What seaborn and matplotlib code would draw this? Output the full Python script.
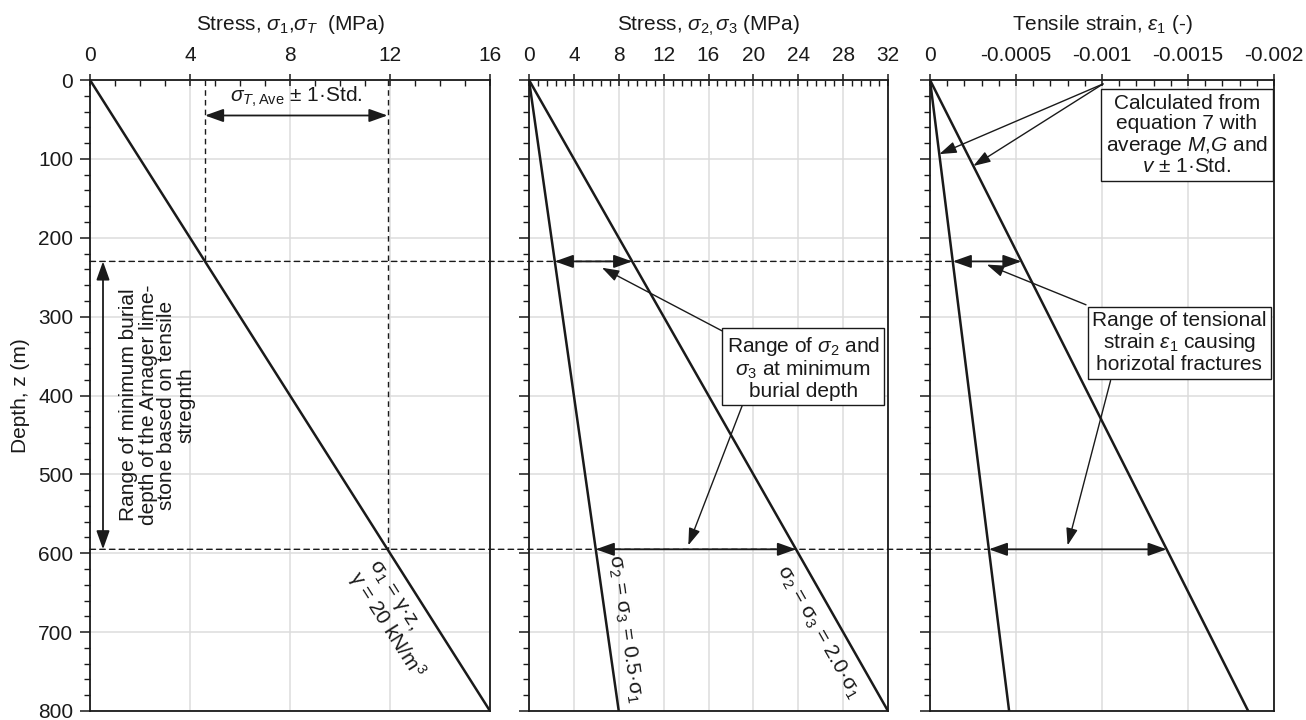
import numpy as np
import pandas as pd
import matplotlib
matplotlib.use("Agg")
import matplotlib.pyplot as plt
import seaborn as sns
from matplotlib.patches import ConnectionPatch
from matplotlib.ticker import MultipleLocator, FuncFormatter

# ---- data -------------------------------------------------------------
gamma_kn = 20.0                      # unit weight, kN/m3
depth_ends = [0.0, 800.0]            # m
sigma_t_range = [4.6, 11.9]          # tensile strength, average +/- 1 std (MPa)
ratios = [0.5, 2.0]                  # sigma2 = sigma3 = ratio * sigma1
strain_at_800 = [-0.00046, -0.00185]  # tensile strain at 800 m (two estimates)

x1_ticks = [0, 4, 8, 12, 16]
x2_ticks = [0, 4, 8, 12, 16, 20, 24, 28, 32]
x3_ticks = [0, -0.0005, -0.001, -0.0015, -0.002]
y_ticks = [0, 100, 200, 300, 400, 500, 600, 700, 800]

# ---- derived series ---------------------------------------------------
depth = np.array(depth_ends)
sigma1 = gamma_kn / 1000.0 * depth
burial = np.array(sigma_t_range) / (gamma_kn / 1000.0)   # minimum burial depths


def s1(z):
    return gamma_kn / 1000.0 * z


def strain(i, z):
    return strain_at_800[i] * z / depth_ends[1]


df1 = pd.DataFrame({"z": depth, "s": sigma1})
df2 = pd.concat([pd.DataFrame({"z": depth, "s": r * sigma1, "k": str(r)}) for r in ratios])
df3 = pd.concat([pd.DataFrame({"z": depth, "e": e * depth / depth_ends[1], "k": str(i)})
                 for i, e in enumerate(strain_at_800)])

# ---- style ------------------------------------------------------------
sns.set_theme(style="whitegrid")
plt.rcParams["font.family"] = ["Liberation Sans", "DejaVu Sans"]
plt.rcParams["mathtext.fontset"] = "custom"
plt.rcParams["mathtext.rm"] = "Liberation Sans"
plt.rcParams["mathtext.it"] = "Liberation Sans:italic"
plt.rcParams["mathtext.bf"] = "Liberation Sans:bold"
plt.rcParams["axes.unicode_minus"] = False

FS = 15
ink = "#1a1a1a"
grid_c = "#dcdcdc"

fig = plt.figure(figsize=(13.06, 7.20), dpi=100)
W, H = 1306.0, 720.0
top_px, bot_px = 80.0, 711.0
panels_px = [(90, 490), (529, 888), (930, 1274)]
axes = []
for l, r in panels_px:
    ax = fig.add_axes([l / W, 1 - bot_px / H, (r - l) / W, (bot_px - top_px) / H])
    axes.append(ax)
ax1, ax2, ax3 = axes

line_kw = dict(color=ink, linewidth=1.8, estimator=None, sort=False, legend=False)
sns.lineplot(data=df1, x="s", y="z", ax=ax1, **line_kw)
sns.lineplot(data=df2, x="s", y="z", units="k", ax=ax2, **line_kw)
sns.lineplot(data=df3, x="e", y="z", units="k", ax=ax3, **line_kw)

ax1.set_xlim(0, 16)
ax2.set_xlim(0, 32)
ax3.set_xlim(0, -0.002)

for ax, ticks, minor in [(ax1, x1_ticks, 1), (ax2, x2_ticks, 0.8), (ax3, x3_ticks, 0.0001)]:
    ax.set_ylim(800, 0)
    ax.set_xticks(ticks)
    ax.xaxis.set_minor_locator(MultipleLocator(minor))
    ax.set_yticks(y_ticks)
    ax.yaxis.set_minor_locator(MultipleLocator(20))
    ax.xaxis.set_ticks_position("top")
    ax.xaxis.set_label_position("top")
    ax.grid(True, which="major", color=grid_c, linewidth=1.1)
    ax.grid(False, which="minor")
    ax.set_axisbelow(True)
    for sp in ax.spines.values():
        sp.set_visible(True)
        sp.set_color(ink)
        sp.set_linewidth(1.3)
    ax.tick_params(axis="x", which="major", direction="inout", length=8, width=1.1,
                   color=ink, top=True, bottom=False, labeltop=True, labelbottom=False,
                   labelsize=FS, pad=7, labelcolor=ink)
    ax.tick_params(axis="x", which="minor", direction="in", length=4, width=1.0,
                   color=ink, top=True, bottom=False)
    ax.tick_params(axis="y", which="major", direction="out", length=7, width=1.1,
                   color=ink, left=True, right=False, labelsize=FS, pad=5, labelcolor=ink)
    ax.tick_params(axis="y", which="minor", direction="out", length=4.5, width=1.0,
                   color=ink, left=True, right=False)
    ax.set_ylabel("")

ax3.xaxis.set_major_formatter(FuncFormatter(lambda v, p: "0" if abs(v) < 1e-12 else f"{v:g}"))
ax2.tick_params(axis="y", labelleft=False)
ax3.tick_params(axis="y", labelleft=False)

ax1.set_xlabel(r"Stress, $\sigma_1$,$\sigma_T$  (MPa)", fontsize=FS, labelpad=11, color=ink)
ax2.set_xlabel(r"Stress, $\sigma_{2,}\sigma_3$ (MPa)", fontsize=FS, labelpad=11, color=ink)
ax3.set_xlabel(r"Tensile strain, $\varepsilon_1$ (-)", fontsize=FS, labelpad=11, color=ink)
ax1.set_ylabel("Depth, z (m)", fontsize=FS, labelpad=6, color=ink)

dash = (0, (4, 3))

# tensile strength range and the corresponding burial depths
for st, zb in zip(sigma_t_range, burial):
    ax1.plot([st, st], [0, zb], color=ink, lw=1.0, ls=dash)
    con = ConnectionPatch(xyA=(0, zb), coordsA=ax1.transData,
                          xyB=(strain(0, zb), zb), coordsB=ax3.transData,
                          color=ink, lw=1.0, linestyle=dash)
    fig.add_artist(con)

dbl = dict(arrowstyle="<|-|>,head_length=0.7,head_width=0.25", color=ink, lw=1.3,
           mutation_scale=16, shrinkA=0, shrinkB=0)
ptr = dict(arrowstyle="-|>,head_length=0.65,head_width=0.22", color=ink, lw=1.0,
           mutation_scale=16, shrinkA=0, shrinkB=0)
box = dict(boxstyle="square,pad=0.22", fc="white", ec=ink, lw=1.0)

# panel 1 annotations
ax1.annotate("", xy=(sigma_t_range[1], 45), xytext=(sigma_t_range[0], 45), arrowprops=dbl)
ax1.text(sum(sigma_t_range) / 2, 22, r"$\sigma_{T,\mathrm{Ave}}$ ± 1·Std.", fontsize=FS,
         ha="center", va="center", color=ink)
ax1.annotate("", xy=(0.52, burial[1]), xytext=(0.52, burial[0]), arrowprops=dbl)
ax1.text(2.7, 412, "Range of minimum burial\ndepth of the Arnager lime-\nstone based on tensile\nstregnth",
         rotation=90, fontsize=FS, ha="center", va="center", multialignment="center", color=ink,
         linespacing=1.0)


def angle(ax, p0, p1):
    a = ax.transData.transform(p0)
    b = ax.transData.transform(p1)
    return np.degrees(np.arctan2(b[1] - a[1], b[0] - a[0]))


ax1.text(12.16, 684, "σ$_1$ = γ·z,\nγ = 20 kN/m$^3$", fontsize=FS, color=ink,
         rotation=angle(ax1, (0, 0), (s1(800), 800)), rotation_mode="anchor",
         ha="center", va="center", multialignment="left", linespacing=0.95)

# panel 2 annotations
for zb in burial:
    ax2.annotate("", xy=(ratios[1] * s1(zb), zb), xytext=(ratios[0] * s1(zb), zb), arrowprops=dbl)
ax2.text(24.45, 365, "Range of $\\sigma_2$ and\n$\\sigma_3$ at minimum\nburial depth", fontsize=FS,
         ha="center", va="center", color=ink, linespacing=1.05, bbox=box)
ax2.annotate("", xy=(6.5, 238), xytext=(17.2, 318), arrowprops=ptr)
ax2.annotate("", xy=(14.2, 590), xytext=(19.0, 413), arrowprops=ptr)
ax2.text(8.56, 695, "σ$_2$ = σ$_3$ = 0.5·σ$_1$", fontsize=FS, color=ink,
         rotation=angle(ax2, (0, 0), (ratios[0] * s1(800), 800)), rotation_mode="anchor",
         ha="center", va="center")
ax2.text(25.76, 699, "σ$_2$ = σ$_3$ = 2.0·σ$_1$", fontsize=FS, color=ink,
         rotation=angle(ax2, (0, 0), (ratios[1] * s1(800), 800)), rotation_mode="anchor",
         ha="center", va="center")

# panel 3 annotations
for zb in burial:
    ax3.annotate("", xy=(strain(1, zb), zb), xytext=(strain(0, zb), zb), arrowprops=dbl)
ax3.text(-0.00145, 333, "Range of tensional\nstrain $\\varepsilon_1$ causing\nhorizotal fractures",
         fontsize=FS, ha="center", va="center", color=ink, linespacing=1.05, bbox=box)
ax3.annotate("", xy=(-0.00033, 234), xytext=(-0.000907, 285), arrowprops=ptr)
ax3.annotate("", xy=(-0.0008, 590), xytext=(-0.00105, 381), arrowprops=ptr)
ax3.text(-0.001494, 70, "Calculated from\nequation 7 with\naverage $M$,$G$ and\n$v$ ± 1·Std.",
         fontsize=FS, ha="center", va="center", color=ink, linespacing=1.05, bbox=box)
for i, zt in [(0, 94), (1, 109)]:
    ax3.annotate("", xy=(strain(i, zt), zt), xytext=(-0.001006, 5), arrowprops=ptr)

fig.savefig("out.png", dpi=100)
